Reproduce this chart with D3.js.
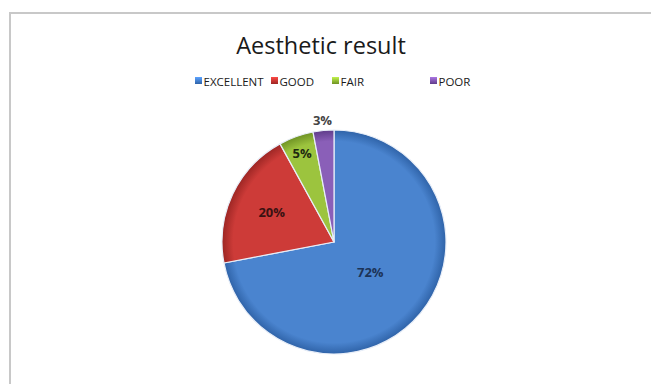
<!DOCTYPE html>
<html>
<head>
<meta charset="utf-8">
<script src="https://cdn.jsdelivr.net/npm/d3@7/dist/d3.min.js"></script>
<style>
  html, body { margin: 0; padding: 0; background: #fff; }
  svg { display: block; font-family: "Open Sans", "Noto Sans", sans-serif; }
</style>
</head>
<body>
<svg id="chart" width="651" height="384"></svg>
<script>
// Aesthetic result distribution (percent of cases)
const categories = ["EXCELLENT", "GOOD", "FAIR", "POOR"];
const values = [72, 20, 5, 3];
const colors = ["#4a84cf", "#cd3b38", "#9cc43e", "#8a5fb8"];
const darkColors = ["#2f63a8", "#9c2624", "#6f9224", "#5f3c8a"];
const labelColors = ["#1c3357", "#3a1212", "#1f2a10", "#444444"];
// label distance from centre as a fraction of the radius
const labelRadius = [0.42, 0.615, 0.84, 1.09];

const svg = d3.select("#chart");
const W = 651, H = 384;

// Outer frame
svg.append("path")
  .attr("d", `M10,${H + 2} L10,13 L${W + 2},13`)
  .attr("fill", "none")
  .attr("stroke", "#c8c8c8")
  .attr("stroke-width", 2);

// Title
svg.append("text")
  .attr("x", 321).attr("y", 54)
  .attr("text-anchor", "middle")
  .attr("font-size", 23.5)
  .attr("fill", "#1a1a1a")
  .text("Aesthetic result");

const defs = svg.append("defs");
categories.forEach((c, i) => {
  const lg = defs.append("linearGradient")
    .attr("id", "lgrad" + i)
    .attr("x1", 0).attr("y1", 0).attr("x2", 0).attr("y2", 1);
  lg.append("stop").attr("offset", "0%").attr("stop-color", d3.color(colors[i]).brighter(0.6));
  lg.append("stop").attr("offset", "100%").attr("stop-color", darkColors[i]);
});

// Legend
const legendX = [195, 271, 332, 430];
const legend = svg.append("g").attr("font-size", 11.5).attr("fill", "#1a1a1a");
categories.forEach((c, i) => {
  legend.append("rect")
    .attr("x", legendX[i]).attr("y", 77)
    .attr("width", 7).attr("height", 7)
    .attr("fill", `url(#lgrad${i})`);
  legend.append("text")
    .attr("x", legendX[i] + 8.5).attr("y", 85.5)
    .text(c);
});

// Pie
const cx = 334, cy = 242, r = 112;
const pie = d3.pie().sort(null).value(d => d)(values);
const arc = d3.arc().innerRadius(0).outerRadius(r);

const g = svg.append("g").attr("transform", `translate(${cx},${cy})`);

categories.forEach((c, i) => {
  const gr = defs.append("radialGradient")
    .attr("id", "pg" + i)
    .attr("gradientUnits", "userSpaceOnUse")
    .attr("cx", 0).attr("cy", 0).attr("r", r);
  gr.append("stop").attr("offset", "0%").attr("stop-color", colors[i]);
  gr.append("stop").attr("offset", "90%").attr("stop-color", colors[i]);
  gr.append("stop").attr("offset", "100%").attr("stop-color", darkColors[i]);
});

g.selectAll("path.slice")
  .data(pie)
  .join("path")
  .attr("class", "slice")
  .attr("d", arc)
  .attr("fill", (d, i) => `url(#pg${i})`)
  .attr("stroke", "#e8eef8")
  .attr("stroke-width", 1.2)
  .attr("stroke-linejoin", "round");

// Value labels
g.selectAll("text.val")
  .data(pie)
  .join("text")
  .attr("class", "val")
  .attr("transform", (d, i) => {
    const rr = r * labelRadius[i];
    return `translate(${d3.arc().innerRadius(rr).outerRadius(rr).centroid(d)})`;
  })
  .attr("text-anchor", "middle")
  .attr("dy", "0.35em")
  .attr("font-size", 13)
  .attr("font-weight", "bold")
  .attr("fill", (d, i) => labelColors[i])
  .text(d => d.data + "%");
</script>
</body>
</html>
